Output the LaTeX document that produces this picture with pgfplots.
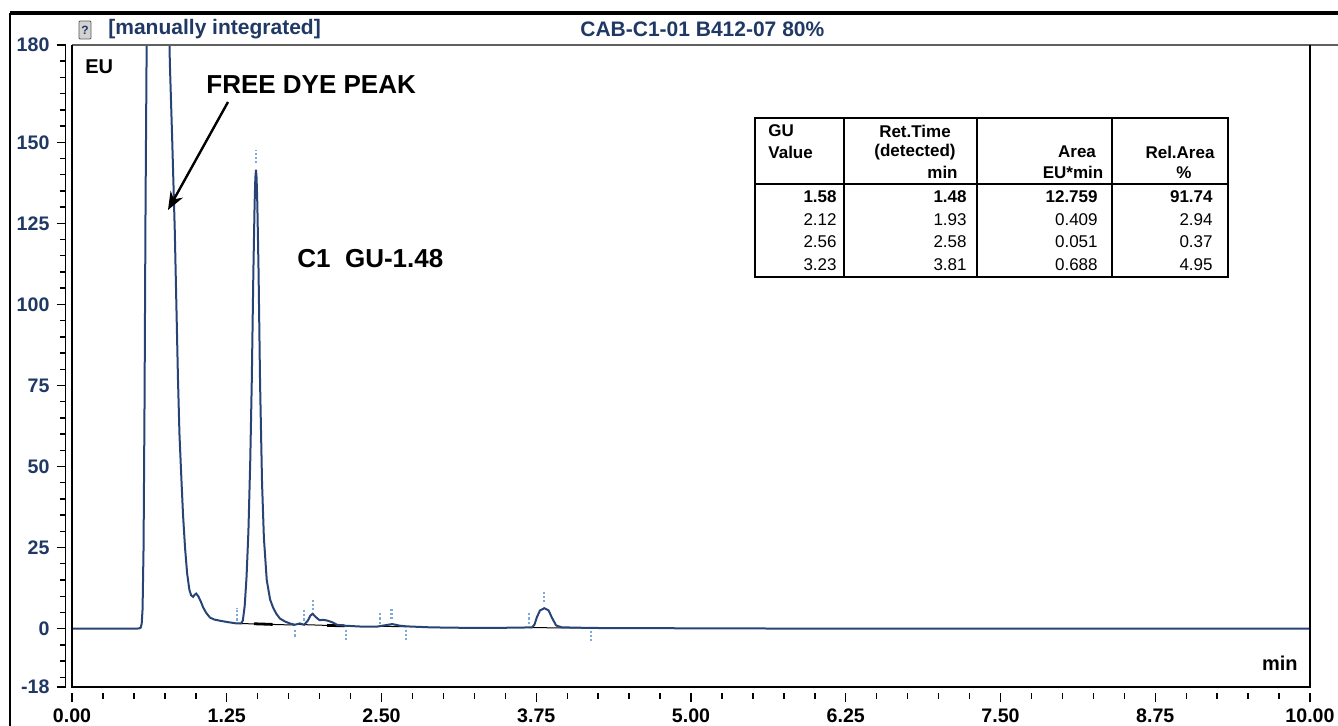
\documentclass[border=0pt]{standalone}
\usepackage{pgfplots}
\pgfplotsset{compat=1.18}
\usetikzlibrary{arrows.meta}
\usepackage{fontspec}
\setmainfont{Liberation Sans}
\definecolor{navy}{RGB}{31,56,100}
\definecolor{trace}{RGB}{40,68,118}
\definecolor{mk}{RGB}{125,170,222}
\begin{document}
\begin{tikzpicture}
\useasboundingbox (0,0) rectangle (669pt,363pt);
\begin{axis}[
  at={(36pt,19.5pt)}, anchor=south west,
  scale only axis, width=619pt, height=321pt,
  xmin=0, xmax=10, ymin=-18, ymax=180,
  axis x line*=bottom, axis y line*=left,
  axis x line shift=3pt, axis y line shift=3.25pt,
  x axis line style={draw=none},
  y axis line style={line width=0.7pt},
  tick align=outside,
  major tick length=4.5pt, minor tick length=3pt,
  every tick/.style={black, line width=0.7pt},
  xtick={0,1.25,2.5,3.75,5,6.25,7.5,8.75,10},
  xticklabels={0.00,1.25,2.50,3.75,5.00,6.25,7.50,8.75,10.00},
  minor xtick={0.25,0.5,0.75,1,1.5,1.75,2,2.25,2.75,3,3.25,3.5,4,4.25,4.5,4.75,5.25,5.5,5.75,6,6.5,6.75,7,7.25,7.75,8,8.25,8.5,9,9.25,9.5,9.75},
  ytick={-18,0,25,50,75,100,125,150,180},
  yticklabels={-18,0,25,50,75,100,125,150,180},
  minor ytick={-15,-10,-5,5,10,15,20,30,35,40,45,55,60,65,70,80,85,90,95,105,110,115,120,130,135,140,145,155,160,165,170,175},
  xticklabel style={font=\bfseries\fontsize{9.8}{11}\selectfont, text=black},
  yticklabel style={font=\bfseries\fontsize{9.8}{11}\selectfont, text=navy},
  clip=true,
]
% integration baselines
\addplot[black, line width=0.5pt] coordinates {(1.335,1.6) (1.80,1.1)};
\addplot[black, line width=1.4pt] coordinates {(1.47,1.5) (1.62,1.3)};
\addplot[black, line width=0.5pt] coordinates {(1.82,1.3) (2.21,0.8)};
\addplot[black, line width=1.4pt] coordinates {(2.06,1.0) (2.2,0.85)};
\addplot[black, line width=0.5pt] coordinates {(2.49,0.7) (2.70,0.6)};
\addplot[black, line width=0.5pt] coordinates {(3.69,0.3) (4.19,0.2)};
% trace
\addplot[trace, line width=1pt] coordinates {
(0,0) (0.50,0) (0.54,0.05) (0.555,0.3) (0.563,1.5) (0.57,6) (0.578,25) (0.586,70)
(0.594,130) (0.603,180) (0.62,260) (0.65,340) (0.69,380) (0.73,340) (0.76,270)
(0.78,200) (0.79,175) (0.81,150) (0.83,123) (0.843,100) (0.856,77) (0.868,60)
(0.885,45) (0.897,35) (0.913,25) (0.93,17) (0.948,12) (0.962,10.3) (0.978,9.8)
(0.99,10.4) (1.003,10.8) (1.02,10.0) (1.04,8.4) (1.06,6.5) (1.085,4.8) (1.115,3.4)
(1.15,2.8) (1.20,2.4) (1.26,2.0) (1.33,1.6) (1.365,1.6) (1.38,2.5) (1.395,7)
(1.41,16) (1.425,30) (1.44,52) (1.452,76) (1.465,110) (1.475,131) (1.481,139)
(1.486,141.5) (1.491,139) (1.497,131) (1.507,110) (1.519,76) (1.535,45) (1.55,28)
(1.573,15) (1.60,9) (1.624,6.5) (1.65,4.6) (1.68,3.1) (1.72,2.2) (1.76,1.6)
(1.80,1.2) (1.84,1.6) (1.875,1.2) (1.906,2.5) (1.925,4.0) (1.944,4.6) (1.96,3.9)
(1.977,3.3) (2.0,2.6) (2.03,2.7) (2.06,2.5) (2.10,2.0) (2.14,1.2) (2.205,0.9)
(2.35,0.6) (2.46,0.6) (2.54,1.1) (2.587,1.4) (2.65,0.9) (2.70,0.7) (2.89,0.4)
(3.05,0.3) (3.3,0.2) (3.6,0.3) (3.715,0.4) (3.735,1.2) (3.755,3.5) (3.78,5.6)
(3.815,6.3) (3.85,5.6) (3.875,3.5) (3.91,1.0) (3.955,0.4) (4.2,0.2) (5,0.1)
(6,0) (10,0)};
% integration markers
\addplot[mk, densely dotted, line width=1.1pt] coordinates {(1.335,2.5) (1.335,6.5)};
\addplot[mk, densely dotted, line width=1.1pt] coordinates {(1.486,143.5) (1.486,147.5)};
\addplot[mk, densely dotted, line width=1.1pt] coordinates {(1.80,-0.5) (1.80,-3)};
\addplot[mk, densely dotted, line width=1.1pt] coordinates {(1.874,2.5) (1.874,5.6)};
\addplot[mk, densely dotted, line width=1.1pt] coordinates {(1.944,5.6) (1.944,9.3)};
\addplot[mk, densely dotted, line width=1.1pt] coordinates {(2.21,-0.3) (2.21,-3.7)};
\addplot[mk, densely dotted, line width=1.1pt] coordinates {(2.49,1.5) (2.49,5)};
\addplot[mk, densely dotted, line width=1.1pt] coordinates {(2.58,3) (2.58,6.2)};
\addplot[mk, densely dotted, line width=1.1pt] coordinates {(2.695,-0.3) (2.695,-3.7)};
\addplot[mk, densely dotted, line width=1.1pt] coordinates {(3.69,1.5) (3.69,5)};
\addplot[mk, densely dotted, line width=1.1pt] coordinates {(3.815,8.1) (3.815,11.2)};
\addplot[mk, densely dotted, line width=1.1pt] coordinates {(4.19,-0.6) (4.19,-3.7)};
\end{axis}
\begin{scope}[x=0.5pt, y=-0.5pt, yshift=363pt]
% frame
\draw[line width=1.6pt] (10,13) -- (1338,13);
\draw[line width=1.3pt] (10,13) -- (10,726);
\draw[gray!75!black, line width=1.2pt] (72,45) -- (1338,45);
\draw[line width=1.3pt] (72,45) -- (72,687) -- (1310,687) -- (1310,45);
% header
\node[draw=gray!70!black, fill=gray!35, rounded corners=0.5pt, inner sep=0.6pt, font=\bfseries\fontsize{6}{6}\selectfont, text=navy, minimum width=6pt, minimum height=9pt] at (85,30) {?};
\node[anchor=west, inner sep=0pt, text=navy, font=\bfseries\fontsize{10.5}{12}\selectfont] at (108,29) {[manually integrated]};
\node[anchor=west, inner sep=0pt, text=navy, font=\bfseries\fontsize{10.5}{12}\selectfont] at (580,29) {CAB-C1-01 B412-07 80\%};
% axis captions
\node[anchor=west, inner sep=0pt, font=\bfseries\fontsize{10}{11}\selectfont] at (85,67) {EU};
\node[anchor=east, inner sep=0pt, font=\bfseries\fontsize{10}{11}\selectfont] at (1298,663) {min};
% annotations
\node[anchor=west, inner sep=0pt, font=\bfseries\fontsize{13}{15}\selectfont] at (206,85) {FREE DYE PEAK};
\draw[line width=1.2pt, -{Stealth[length=9pt,width=7pt]}] (228,102) -- (168,210);
\node[anchor=west, inner sep=0pt, font=\bfseries\fontsize{13}{15}\selectfont] at (297,259) {C1\ \ GU-1.48};
% table
\draw[line width=0.9pt] (755,118) rectangle (1228,277);
\draw[line width=0.9pt] (755,184) -- (1228,184);
\foreach \xx in {844,977,1112} \draw[line width=0.9pt] (\xx,118) -- (\xx,277);
\begin{scope}[every node/.style={inner sep=0pt, font=\bfseries\fontsize{8.5}{9}\selectfont}]
\node[anchor=west] at (768,131) {GU};
\node[anchor=west] at (768,152) {Value};
\node at (915,131) {Ret.Time};
\node at (915,152) {(detected)};
\node[anchor=east] at (958,172) {min};
\node at (1077,152) {Area};
\node at (1073,172) {EU*min};
\node at (1180,152) {Rel.Area};
\node at (1184,173) {\%};
\node[anchor=east] at (837,197) {1.58};
\node[anchor=east] at (967,197) {1.48};
\node[anchor=east] at (1098,197) {12.759};
\node[anchor=east] at (1213,197) {91.74};
\end{scope}
\begin{scope}[every node/.style={inner sep=0pt, anchor=east, font=\fontsize{8.5}{9}\selectfont}]
\node at (837,220) {2.12}; \node at (967,220) {1.93}; \node at (1098,220) {0.409}; \node at (1213,220) {2.94};
\node at (837,242) {2.56}; \node at (967,242) {2.58}; \node at (1098,242) {0.051}; \node at (1213,242) {0.37};
\node at (837,265) {3.23}; \node at (967,265) {3.81}; \node at (1098,265) {0.688}; \node at (1213,265) {4.95};
\end{scope}
\end{scope}
\end{tikzpicture}
\end{document}
